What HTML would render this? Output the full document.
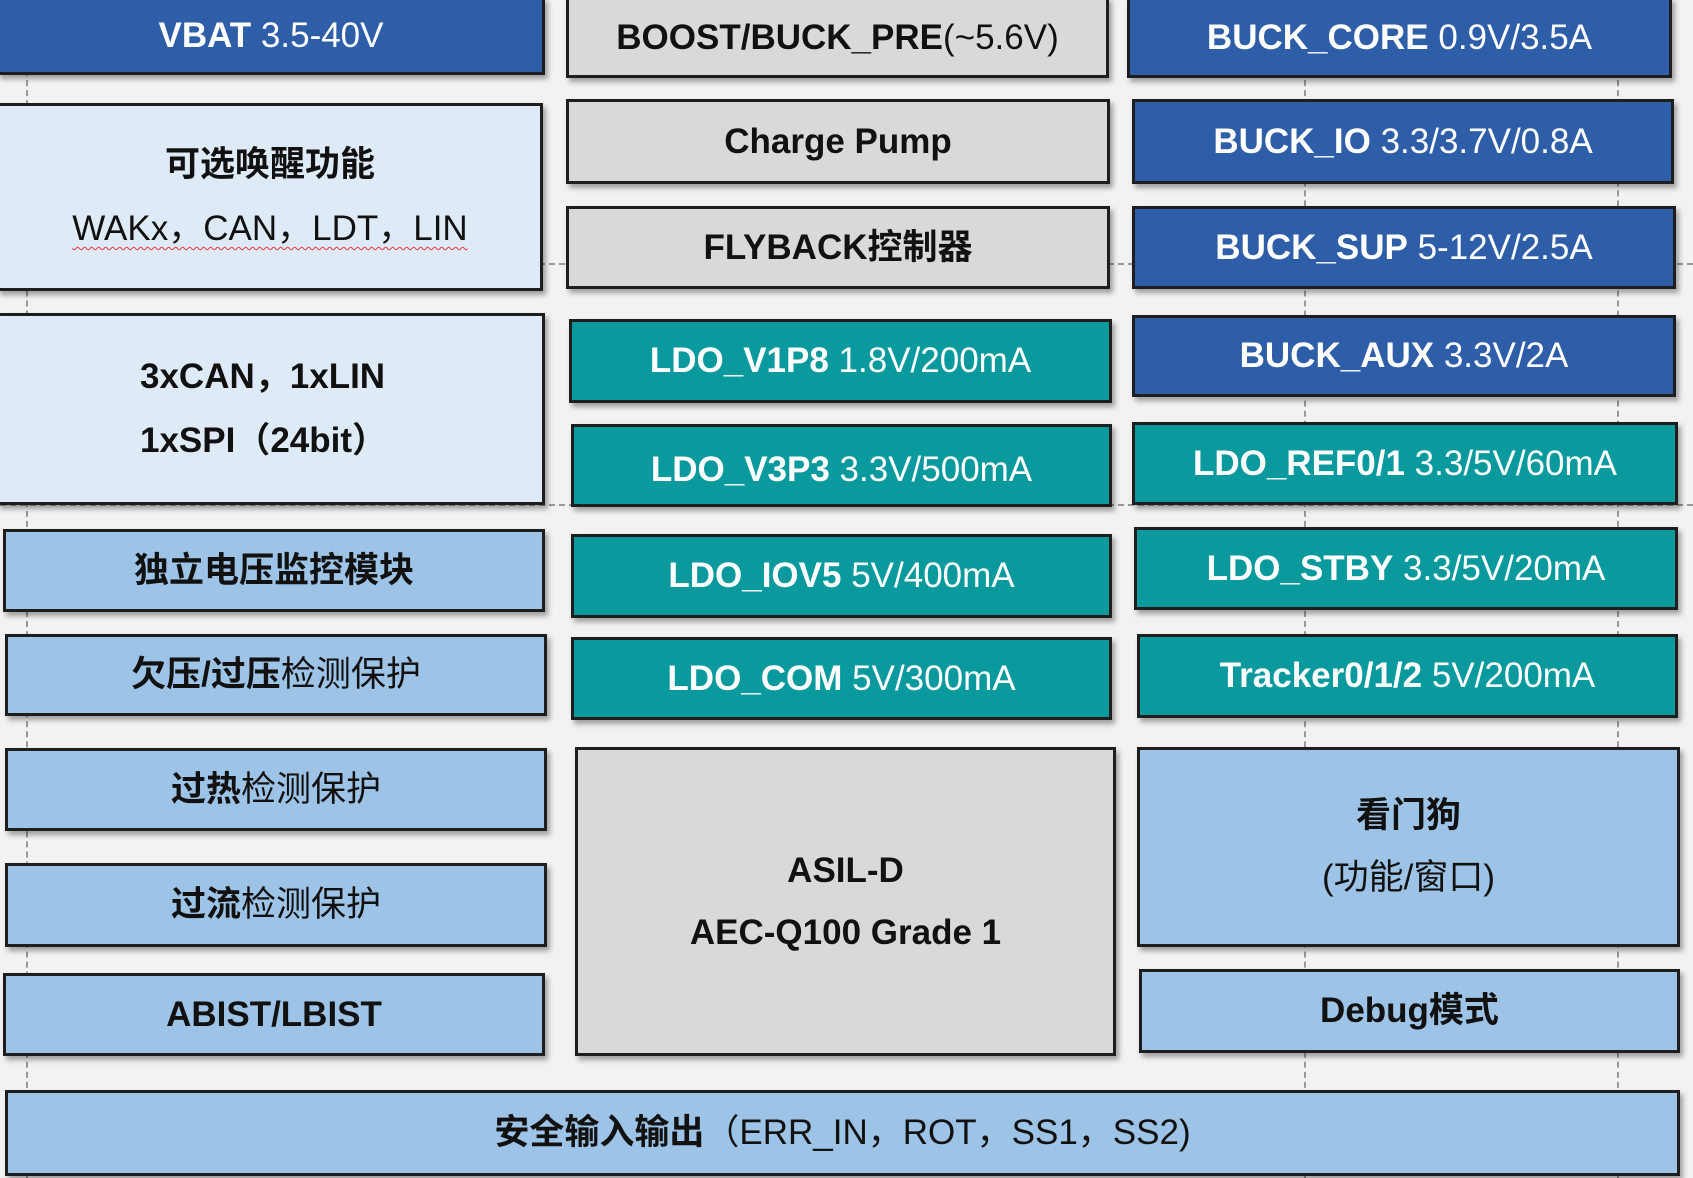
<!DOCTYPE html>
<html><head><meta charset="utf-8"><style>
body{margin:0;width:1693px;height:1178px;background:#f2f2f2;position:relative;overflow:hidden;font-family:"Liberation Sans","Noto Sans CJK SC",sans-serif}
.b{position:absolute;box-sizing:border-box;border:3px solid #1e1e1e;display:flex;flex-direction:column;align-items:center;justify-content:center;font-size:35px;text-align:center;box-shadow:3px 4px 5px rgba(0,0,0,.35);line-height:1.2}
.d{background:#2f5ea8;color:#fff}.t{background:#0a9a9e;color:#fff}.g{background:#d9d9d9;color:#111}.l{background:#9dc3e6;color:#111}.p{background:#deebf7;color:#111}
b{font-weight:bold}
.dv{position:absolute;border-left:2px dashed #999;top:0;height:1178px;width:0}
.dh{position:absolute;border-top:2px dashed #999;left:0;width:1693px;height:0}
</style></head><body>
<div class="dv" style="left:26px"></div><div class="dv" style="left:1304px"></div><div class="dv" style="left:1617px"></div>
<div class="dh" style="top:263px"></div><div class="dh" style="top:504px"></div>

<div class="b d" style="left:-3px;top:-3px;width:548px;height:78px"><div><b>VBAT</b> 3.5-40V</div></div>
<div class="b p" style="left:-3px;top:103px;width:546px;height:188px"><div style="font-weight:bold">可选唤醒功能</div><div style="margin-top:22px;text-decoration:underline wavy #e33;text-decoration-thickness:1px;text-underline-offset:6px">WAKx，CAN，LDT，LIN</div></div>
<div class="b p" style="left:-3px;top:313px;width:548px;height:192px;align-items:flex-start;padding-left:140px"><div style="font-weight:bold">3xCAN，1xLIN</div><div style="font-weight:bold;margin-top:22px">1xSPI（24bit）</div></div>
<div class="b l" style="left:3px;top:529px;width:542px;height:83px"><b>独立电压监控模块</b></div>
<div class="b l" style="left:5px;top:634px;width:542px;height:82px"><div><b>欠压/过压</b>检测保护</div></div>
<div class="b l" style="left:5px;top:748px;width:542px;height:83px"><div><b>过热</b>检测保护</div></div>
<div class="b l" style="left:5px;top:863px;width:542px;height:84px"><div><b>过流</b>检测保护</div></div>
<div class="b l" style="left:3px;top:973px;width:542px;height:83px"><b>ABIST/LBIST</b></div>

<div class="b g" style="left:566px;top:-3px;width:543px;height:81px"><div><b>BOOST/BUCK_PRE</b>(~5.6V)</div></div>
<div class="b g" style="left:566px;top:99px;width:544px;height:85px"><b>Charge Pump</b></div>
<div class="b g" style="left:566px;top:206px;width:544px;height:83px"><b>FLYBACK控制器</b></div>
<div class="b t" style="left:569px;top:319px;width:543px;height:84px"><div><b>LDO_V1P8</b> 1.8V/200mA</div></div>
<div class="b t" style="left:571px;top:424px;width:541px;height:83px"><div style="margin-top:8px"><b>LDO_V3P3</b> 3.3V/500mA</div></div>
<div class="b t" style="left:571px;top:534px;width:541px;height:84px"><div><b>LDO_IOV5</b> 5V/400mA</div></div>
<div class="b t" style="left:571px;top:637px;width:541px;height:83px"><div><b>LDO_COM</b> 5V/300mA</div></div>
<div class="b g" style="left:575px;top:747px;width:541px;height:309px"><div style="font-weight:bold">ASIL-D</div><div style="font-weight:bold;margin-top:20px">AEC-Q100 Grade 1</div></div>

<div class="b d" style="left:1127px;top:-3px;width:545px;height:81px"><div><b>BUCK_CORE</b> 0.9V/3.5A</div></div>
<div class="b d" style="left:1132px;top:99px;width:542px;height:85px"><div><b>BUCK_IO</b> 3.3/3.7V/0.8A</div></div>
<div class="b d" style="left:1132px;top:206px;width:544px;height:83px"><div><b>BUCK_SUP</b> 5-12V/2.5A</div></div>
<div class="b d" style="left:1132px;top:315px;width:544px;height:82px"><div><b>BUCK_AUX</b> 3.3V/2A</div></div>
<div class="b t" style="left:1132px;top:422px;width:546px;height:83px"><div><b>LDO_REF0/1</b> 3.3/5V/60mA</div></div>
<div class="b t" style="left:1134px;top:527px;width:544px;height:83px"><div><b>LDO_STBY</b> 3.3/5V/20mA</div></div>
<div class="b t" style="left:1137px;top:634px;width:541px;height:84px"><div><b>Tracker0/1/2</b> 5V/200mA</div></div>
<div class="b l" style="left:1137px;top:747px;width:543px;height:200px"><div style="font-weight:bold">看门狗</div><div style="margin-top:20px">(功能/窗口)</div></div>
<div class="b l" style="left:1139px;top:969px;width:541px;height:84px"><b>Debug模式</b></div>

<div class="b l" style="left:5px;top:1090px;width:1675px;height:86px"><div><b>安全输入输出</b>（ERR_IN，ROT，SS1，SS2)</div></div>
</body></html>
